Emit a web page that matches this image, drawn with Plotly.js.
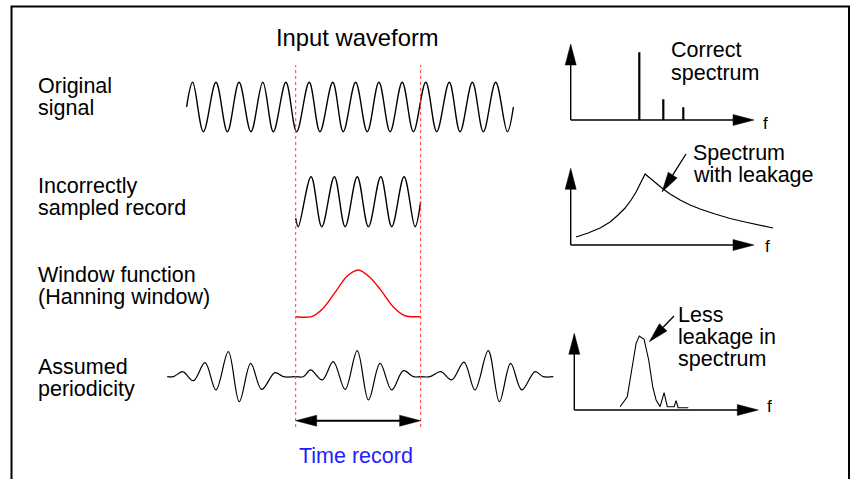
<!DOCTYPE html>
<html><head><meta charset="utf-8">
<script src="https://cdn.plot.ly/plotly-3.0.1.min.js"></script>
<style>html,body{margin:0;padding:0;background:#fff}</style>
</head><body>
<div id="chart" style="width:857px;height:479px"></div>
<script>
// ================= DATA =================
// Time unit: one period of the input sine.
// Original signal: turning points (start, peaks/troughs, end)
const origT = [-0.03, 0.23,0.69, 1.23,1.72, 2.22,2.73, 3.24,3.69, 4.23,4.69, 5.23,5.69, 6.24,6.69,
               7.22,7.72, 8.22,8.70, 9.22,9.70, 10.23,10.70, 11.24,11.70, 12.23,12.70, 13.23,13.73, 13.99];
const origV = [0, 1,-1, 1,-1, 1,-1, 1,-1, 1,-1, 1,-1, 1,-1, 1,-1, 1,-1, 1,-1, 1,-1, 1,-1, 1,-1, 1,-1, 0];

// Incorrectly sampled record (time record from 4.65 to 10.01)
const recT = [4.65, 4.76, 5.31, 5.77, 6.31, 6.77, 7.29, 7.77, 8.30, 8.77, 9.30, 9.77, 10.01];
const recV = [-0.66, -1, 1, -1, 1, -1, 1, -1, 1, -1, 1, -1, 0];

// Hanning window (relative height)
const winT = [4.65, 5.33, 5.83, 6.41, 6.84, 7.34, 7.84, 8.27, 8.84, 9.34, 10.01];
const winV = [0, 0, 0.18, 0.57, 0.86, 1.0, 0.84, 0.59, 0.21, 0.02, 0];

// Assumed periodicity (windowed record repeated)
const perT = [-0.86, -0.60, -0.20, 0.26, 0.76, 1.23, 1.76, 2.23, 2.72, 3.19, 3.76, 4.12,
              4.65, 4.98, 5.29, 5.79, 6.26, 6.77, 7.29, 7.77, 8.27, 8.77, 9.27, 9.70,
              10.01, 10.41, 10.87, 11.34, 11.87, 12.34, 12.91, 13.39, 13.87, 14.35, 14.92, 15.27, 15.70];
const perV = [0, 0, 0.2, -0.16, 0.56, -0.53, 1.0, -1.0, 0.53, -0.51, 0.16, 0,
              0, 0, 0.27, -0.13, 0.6, -0.51, 1.04, -0.93, 0.53, -0.53, 0.24, 0,
              0, 0, 0.2, -0.13, 0.58, -0.53, 1.04, -1.0, 0.53, -0.53, 0.2, 0, 0];

// Correct spectrum (frequency, amplitude) - arbitrary units
const corrF = [34.3, 46.3, 56.3];
const corrA = [67.7, 20.7, 12.7];

// Spectrum with leakage
const leakF = [2.7, 8.7, 14.7, 19.7, 23.7, 27.2, 30.2, 32.7, 34.7, 36.2, 37.2,
               38.7, 41.2, 43.7, 46.2, 49.7, 54.7, 59.7, 64.7, 72.2, 79.7, 87.2, 94.7, 101.2];
const leakA = [8, 12, 17, 23, 30, 37, 45, 53, 61, 67, 71,
               68.5, 64, 60, 56, 51, 45, 40, 36, 31, 26.5, 23, 19.5, 17];

// Less leakage (Hanning windowed spectrum)
const lessF = [22.9, 26.5, 28.7, 30.9, 32.5, 34.9, 37.2, 39.2, 40.9, 42.9, 44.9, 46.5, 49.9, 50.9, 51.9, 57.0];
const lessA = [3.3, 13.3, 40, 66.7, 74, 70.7, 50, 23.3, 10, 3.3, 17.3, 3.3, 3.3, 9.3, 2.3, 2.3];

// Text
const titleText = "Input waveform";
const rowLabels = [["Original", "signal"], ["Incorrectly", "sampled record"],
                   ["Window function", "(Hanning window)"], ["Assumed", "periodicity"]];
const specLabels = [["Correct", "spectrum"], ["Spectrum", "with leakage"], ["Less", "leakage in", "spectrum"]];
const freqLabel = "f";
const recordLabel = "Time record";

// ================= LAYOUT =================
const W = 857, H = 479;
const FONT = "Liberation Sans, Arial, Helvetica, sans-serif";
const px = x => x / W;
const py = y => 1 - y / H;

// time axis placement
const T0PX = 187.3, PERIOD_PX = 23.31;
const recStart = recT[0], recEnd = recT[recT.length - 1];

function rowAxis(centerPx, unitPx, lo, hi) {
  return {domain: [py(centerPx - lo * unitPx), py(centerPx - hi * unitPx)], range: [lo, hi],
          anchor: 'x', visible: false, fixedrange: true};
}
function specX(ox) { return {domain: [px(ox - 20), px(ox + 260)], range: [-10, 130], visible: false, fixedrange: true}; }
function specY(oy, xa) { return {domain: [py(oy + 10), py(oy - 120)], range: [-10, 120], anchor: xa, visible: false, fixedrange: true}; }

const black = '#000000';
const traces = [
  {x: origT, y: origV, xaxis: 'x', yaxis: 'y', mode: 'lines', line: {color: black, width: 1.4, shape: 'spline', smoothing: 1}},
  {x: recT, y: recV, xaxis: 'x', yaxis: 'y2', mode: 'lines', line: {color: black, width: 1.4, shape: 'spline', smoothing: 1}},
  {x: winT, y: winV, xaxis: 'x', yaxis: 'y3', mode: 'lines', line: {color: '#ff0000', width: 1.4, shape: 'spline', smoothing: 0.8}},
  {x: perT, y: perV, xaxis: 'x', yaxis: 'y4', mode: 'lines', line: {color: black, width: 1.2, shape: 'spline', smoothing: 1}},
  {type: 'bar', x: corrF, y: corrA, width: 1.1, xaxis: 'x2', yaxis: 'y5', marker: {color: black, line: {width: 0}}},
  {x: leakF, y: leakA, xaxis: 'x3', yaxis: 'y6', mode: 'lines', line: {color: black, width: 1.2}},
  {x: lessF, y: lessA, xaxis: 'x4', yaxis: 'y7', mode: 'lines', line: {color: black, width: 1.1}}
];

const HEAD_LEN = 21, HEAD_W = 11;
const shapes = [];
// frame
shapes.push({type: 'rect', xref: 'paper', yref: 'paper', x0: px(11.5), x1: px(849), y0: py(6.5), y1: py(520),
             line: {color: black, width: 2}, fillcolor: 'rgba(0,0,0,0)'});
// time record boundaries
[recStart, recEnd].forEach(t => shapes.push({type: 'line', xref: 'x', yref: 'paper', x0: t, x1: t, y0: py(427), y1: py(65),
  line: {color: '#ff3b3b', width: 1, dash: 'dot'}}));
// time record double arrow
const arrowY = py(420.7);
shapes.push({type: 'line', xref: 'x', yref: 'paper', x0: recStart + 0.3, x1: recEnd - 0.3, y0: arrowY, y1: arrowY,
             line: {color: black, width: 2}});
function head(xref, yref, xa, ya, dir) { // dir: 'l','r','u'
  let p;
  if (dir === 'l') p = `M0,0L${HEAD_LEN},${HEAD_W/2}L${HEAD_LEN},${-HEAD_W/2}Z`;
  if (dir === 'r') p = `M0,0L${-HEAD_LEN},${HEAD_W/2}L${-HEAD_LEN},${-HEAD_W/2}Z`;
  if (dir === 'u') p = `M0,0L${-HEAD_W/2},${-HEAD_LEN}L${HEAD_W/2},${-HEAD_LEN}Z`;
  return {type: 'path', xref, yref, xsizemode: 'pixel', ysizemode: 'pixel', xanchor: xa, yanchor: ya, path: p,
          fillcolor: black, line: {color: black, width: 0.5}};
}
shapes.push(head('x', 'paper', recStart, arrowY, 'l'));
shapes.push(head('x', 'paper', recEnd, arrowY, 'r'));

// spectrum axes (origin at 0,0 of each panel)
const panels = [
  {xa: 'x2', ya: 'y5', xTip: 91.65, yTip: 76},
  {xa: 'x3', ya: 'y6', xTip: 91.65, yTip: 76.7},
  {xa: 'x4', ya: 'y7', xTip: 92, yTip: 76.7}
];
panels.forEach(p => {
  shapes.push({type: 'line', xref: p.xa, yref: p.ya, x0: 0, x1: 0, y0: 0, y1: p.yTip - 12, line: {color: black, width: 1.4}});
  shapes.push({type: 'line', xref: p.xa, yref: p.ya, x0: 0, x1: p.xTip - 6, y0: 0, y1: 0, line: {color: black, width: 1.4}});
  shapes.push(head(p.xa, p.ya, 0, p.yTip, 'u'));
  shapes.push(head(p.xa, p.ya, p.xTip, 0, 'r'));
});

// pointer arrows: tip in data coordinates, tail as pixel offset (dx, dy up)
function pointer(xref, yref, tip, tail) {
  const len = Math.hypot(tail[0], tail[1]);
  const ux = tail[0] / len, uy = tail[1] / len;
  const L = 20, Wd = 10.5;
  const bx = ux * L, by = uy * L, qx = -uy * Wd / 2, qy = ux * Wd / 2;
  const f = v => v.toFixed(2);
  const base = {type: 'path', xref, yref, xsizemode: 'pixel', ysizemode: 'pixel', xanchor: tip[0], yanchor: tip[1]};
  shapes.push(Object.assign({}, base, {path: `M${f(bx)},${f(by)}L${f(tail[0])},${f(tail[1])}`, line: {color: black, width: 1.3}}));
  shapes.push(Object.assign({}, base, {path: `M0,0L${f(bx + qx)},${f(by + qy)}L${f(bx - qx)},${f(by - qy)}Z`,
                                       fillcolor: black, line: {color: black, width: 0.5}}));
}
pointer('x3', 'y6', [45.65, 53], [24, 38]);
pointer('x4', 'y7', [37.5, 68.3], [24.7, 25.7]);

// text annotations (no padding so stacked lines sit as tightly as in the original)
const annotations = [];
function label(text, xPx, baselinePx, size, anchor, color) {
  annotations.push({text, xref: 'paper', yref: 'paper', x: px(anchor === 'left' ? xPx + 2 : xPx),
    y: py(baselinePx - 0.3465 * size), xanchor: anchor, yanchor: 'middle', showarrow: false,
    borderpad: 0, borderwidth: 0,
    font: {family: FONT, size, color: color || black}});
}
label(titleText, 357, 45.7, 23.8, 'center');
label(recordLabel, 356, 463.3, 21.5, 'center', '#1e1eff');
const rowBase = [[93.3, 115.3], [193.3, 215.2], [282.7, 304.3], [374, 396]];
rowLabels.forEach((lines, i) => lines.forEach((t, j) => label(t, 36, rowBase[i][j], 21.5, 'left')));
const specPos = [[669, [57, 80]], [690.5, [160, 182.2]], [675.5, [322.6, 344.8, 366.8]]];
specLabels.forEach((lines, i) => lines.forEach((t, j) => label(t, specPos[i][0], specPos[i][1][j], 21.5, 'left')));
[[761, 129.3], [763, 252], [764.5, 412.7]].forEach(p => label(freqLabel, p[0], p[1], 17, 'left'));

const layout = {
  width: W, height: H, margin: {l: 0, r: 0, t: 0, b: 0, pad: 0},
  paper_bgcolor: '#ffffff', plot_bgcolor: 'rgba(0,0,0,0)', showlegend: false,
  xaxis: {domain: [0, 1], range: [(0 - T0PX) / PERIOD_PX, (W - T0PX) / PERIOD_PX], visible: false, fixedrange: true},
  yaxis: rowAxis(107, 24.7, -2, 2),
  yaxis2: rowAxis(201.7, 25, -2, 2),
  yaxis3: rowAxis(316.7, 46.7, -0.5, 1.5),
  yaxis4: rowAxis(376.7, 25, -2, 2),
  xaxis2: specX(570.7), yaxis5: specY(120, 'x2'),
  xaxis3: specX(570.7), yaxis6: specY(245, 'x3'),
  xaxis4: specX(574.3), yaxis7: specY(410, 'x4'),
  shapes, annotations
};
layout.xaxis2.anchor = 'y5'; layout.xaxis3.anchor = 'y6'; layout.xaxis4.anchor = 'y7';

Plotly.newPlot('chart', traces, layout, {staticPlot: true, displayModeBar: false});
</script>
</body></html>
